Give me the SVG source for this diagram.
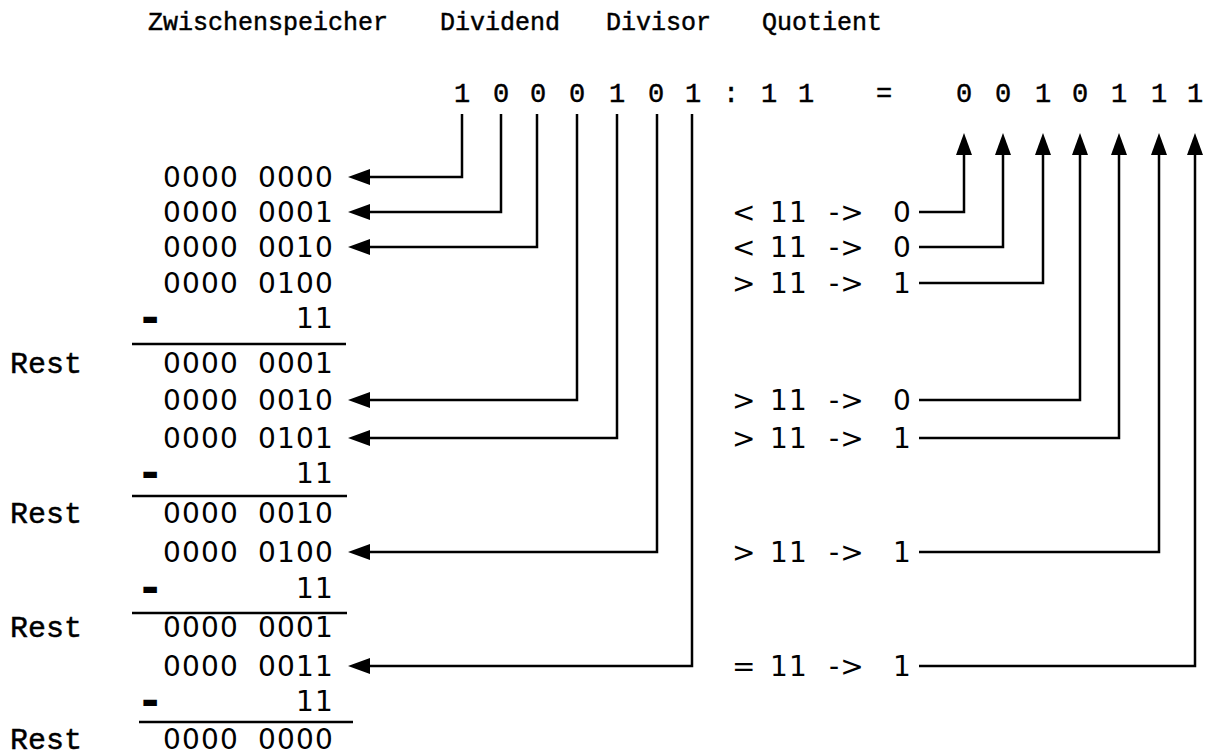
<svg xmlns="http://www.w3.org/2000/svg" width="1213" height="756" viewBox="0 0 1213 756">
  <style>
    .cour { font-family: "Liberation Mono", "Courier New", monospace; fill: #000; stroke: #000; stroke-width: 0.45px; }
    .hd { font-size: 25px; }
    .big { font-size: 27px; }
    .rest { font-size: 30px; }
    .minus { font-family: "DejaVu Sans", sans-serif; font-weight: bold; font-size: 44px; fill: #000; }
    .num { font-family: "DejaVu Sans", sans-serif; font-size: 28px; letter-spacing: 1.2px; word-spacing: 8.9px; fill: #000; }
    .rule { stroke: #000; stroke-width: 2.5; }
    .arr { fill: none; stroke: #000; stroke-width: 2.5; marker-end: url(#ah); }
  </style>
  <defs>
    <marker id="ah" markerWidth="22" markerHeight="16" refX="11" refY="8" orient="auto" markerUnits="userSpaceOnUse">
      <path d="M0,0 L22,8 L0,16 Z" fill="#000"/>
    </marker>
  </defs>
  <rect width="1213" height="756" fill="#fff"/>

  <!-- column headings -->
  <g id="headings" class="cour hd">
    <text x="148" y="30">Zwischenspeicher</text>
    <text x="440" y="30">Dividend</text>
    <text x="606" y="30">Divisor</text>
    <text x="762" y="30">Quotient</text>
  </g>

  <!-- dividend : divisor = quotient -->
  <g id="dividend" class="cour big" text-anchor="middle">
    <text x="462" y="102">1</text>
    <text x="501" y="102">0</text>
    <text x="538" y="102">0</text>
    <text x="577" y="102">0</text>
    <text x="617" y="102">1</text>
    <text x="656" y="102">0</text>
    <text x="693" y="102">1</text>
    <text x="731" y="102">:</text>
    <text x="769" y="102">1</text>
    <text x="806" y="102">1</text>
    <text x="884" y="102">=</text>
  </g>
  <g id="quotient" class="cour big" text-anchor="middle">
    <text x="964" y="102">0</text>
    <text x="1003" y="102">0</text>
    <text x="1043" y="102">1</text>
    <text x="1080" y="102">0</text>
    <text x="1119" y="102">1</text>
    <text x="1159" y="102">1</text>
    <text x="1195" y="102">1</text>
  </g>

  <!-- intermediate register -->
  <g id="register" class="num" text-anchor="end">
    <text x="334" y="187">0000 0000</text>
    <text x="334" y="222">0000 0001</text>
    <text x="334" y="257">0000 0010</text>
    <text x="334" y="293">0000 0100</text>
    <text x="334" y="328">11</text>
    <text x="334" y="373">0000 0001</text>
    <text x="334" y="410">0000 0010</text>
    <text x="334" y="448">0000 0101</text>
    <text x="334" y="483">11</text>
    <text x="334" y="523">0000 0010</text>
    <text x="334" y="562">0000 0100</text>
    <text x="334" y="598">11</text>
    <text x="334" y="637">0000 0001</text>
    <text x="334" y="676">0000 0011</text>
    <text x="334" y="711">11</text>
    <text x="334" y="749">0000 0000</text>
  </g>

  <!-- subtraction steps -->
  <g id="subtractions">
    <g class="minus">
      <text x="141" y="333">-</text>
      <text x="141" y="488">-</text>
      <text x="141" y="603">-</text>
      <text x="141" y="716">-</text>
    </g>
    <g class="cour rest">
      <text x="10" y="373">Rest</text>
      <text x="10" y="523">Rest</text>
      <text x="10" y="637">Rest</text>
      <text x="10" y="749">Rest</text>
    </g>
    <line class="rule" x1="132" y1="344" x2="346" y2="344"/>
    <line class="rule" x1="132" y1="496" x2="347" y2="496"/>
    <line class="rule" x1="132" y1="613" x2="347" y2="613"/>
    <line class="rule" x1="139" y1="722" x2="353" y2="722"/>
  </g>

  <!-- comparisons with the divisor -->
  <g id="comparisons" class="num">
    <text y="222"><tspan x="732">&lt;</tspan><tspan x="770">11</tspan><tspan x="829">-&gt;</tspan><tspan x="893">0</tspan></text>
    <text y="257"><tspan x="732">&lt;</tspan><tspan x="770">11</tspan><tspan x="829">-&gt;</tspan><tspan x="893">0</tspan></text>
    <text y="293"><tspan x="732">&gt;</tspan><tspan x="770">11</tspan><tspan x="829">-&gt;</tspan><tspan x="893">1</tspan></text>
    <text y="410"><tspan x="732">&gt;</tspan><tspan x="770">11</tspan><tspan x="829">-&gt;</tspan><tspan x="893">0</tspan></text>
    <text y="448"><tspan x="732">&gt;</tspan><tspan x="770">11</tspan><tspan x="829">-&gt;</tspan><tspan x="893">1</tspan></text>
    <text y="562"><tspan x="732">&gt;</tspan><tspan x="770">11</tspan><tspan x="829">-&gt;</tspan><tspan x="893">1</tspan></text>
    <text y="676"><tspan x="732">=</tspan><tspan x="770">11</tspan><tspan x="829">-&gt;</tspan><tspan x="893">1</tspan></text>
  </g>

  <!-- connectors -->
  <g id="connectors">
    <!-- dividend bits shifted into the register -->
    <path class="arr" d="M462,114 V177 H359"/>
    <path class="arr" d="M501,114 V212 H359"/>
    <path class="arr" d="M537,114 V247 H359"/>
    <path class="arr" d="M577,114 V400 H359"/>
    <path class="arr" d="M617,114 V438 H359"/>
    <path class="arr" d="M657,114 V552 H359"/>
    <path class="arr" d="M692,114 V666 H359"/>
    <!-- comparison results written to quotient bits -->
    <path class="arr" d="M919,212 H964 V144"/>
    <path class="arr" d="M919,247 H1003 V144"/>
    <path class="arr" d="M919,283 H1043 V144"/>
    <path class="arr" d="M919,400 H1080 V144"/>
    <path class="arr" d="M919,438 H1119 V144"/>
    <path class="arr" d="M919,552 H1159 V144"/>
    <path class="arr" d="M919,666 H1195 V144"/>
  </g>
</svg>
